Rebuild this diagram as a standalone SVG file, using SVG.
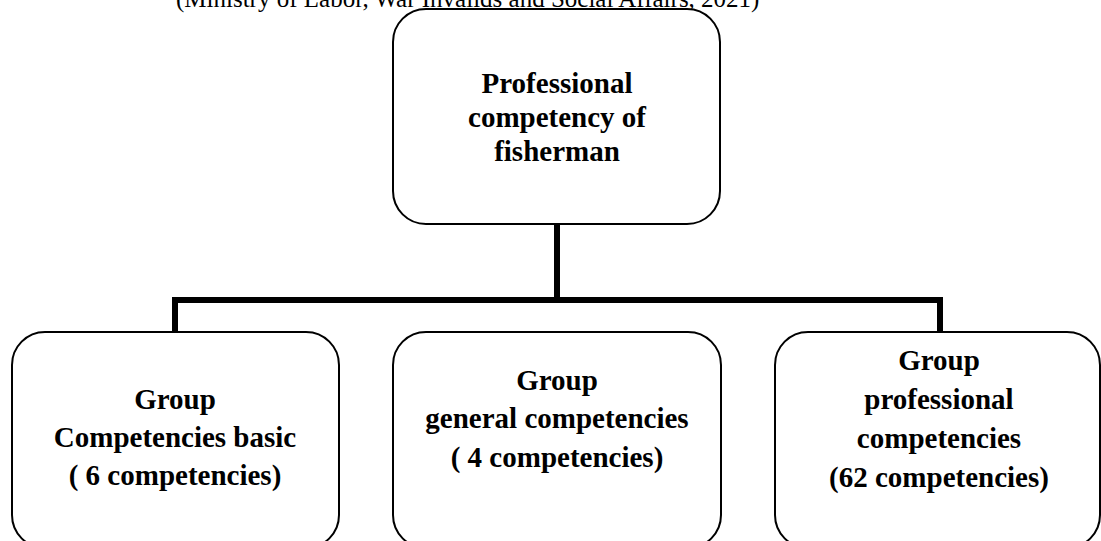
<svg xmlns="http://www.w3.org/2000/svg" width="1101" height="541" viewBox="0 0 1101 541">
  <style>
    .box { fill: #ffffff; stroke: #000000; stroke-width: 2; }
    .lbl { font-family: "Liberation Serif", "Times New Roman", serif; font-weight: bold; font-size: 29px; fill: #000000; text-anchor: middle; }
    .cap { font-family: "Liberation Serif", "Times New Roman", serif; font-size: 25px; fill: #000000; }
    .conn { fill: none; stroke: #000000; stroke-width: 6; stroke-linejoin: miter; stroke-linecap: butt; }
  </style>
  <rect width="1101" height="541" fill="#ffffff"/>
  <text class="cap" x="176" y="6.5">(Ministry of Labor, War Invalids and Social Affairs, 2021)</text>
  <g id="connectors">
    <path class="conn" d="M557 224 V300"/>
    <path class="conn" d="M175 332 V300 H940 V332"/>
  </g>
  <g id="root">
    <rect class="box" x="393" y="9" width="327" height="215" rx="33" ry="33"/>
    <text class="lbl" x="557" y="93">Professional</text>
    <text class="lbl" x="557" y="127">competency of</text>
    <text class="lbl" x="557" y="161">fisherman</text>
  </g>
  <g id="basic">
    <rect class="box" x="12" y="332" width="327" height="216" rx="33" ry="33"/>
    <text class="lbl" x="175" y="409">Group</text>
    <text class="lbl" x="175" y="447">Competencies basic</text>
    <text class="lbl" x="175" y="485">( 6 competencies)</text>
  </g>
  <g id="general">
    <rect class="box" x="393" y="332" width="328" height="216" rx="33" ry="33"/>
    <text class="lbl" x="557" y="390">Group</text>
    <text class="lbl" x="557" y="428">general competencies</text>
    <text class="lbl" x="557" y="467">( 4 competencies)</text>
  </g>
  <g id="professional">
    <rect class="box" x="775" y="332" width="325" height="216" rx="33" ry="33"/>
    <text class="lbl" x="939" y="370">Group</text>
    <text class="lbl" x="939" y="409">professional</text>
    <text class="lbl" x="939" y="448">competencies</text>
    <text class="lbl" x="939" y="487">(62 competencies)</text>
  </g>
</svg>
